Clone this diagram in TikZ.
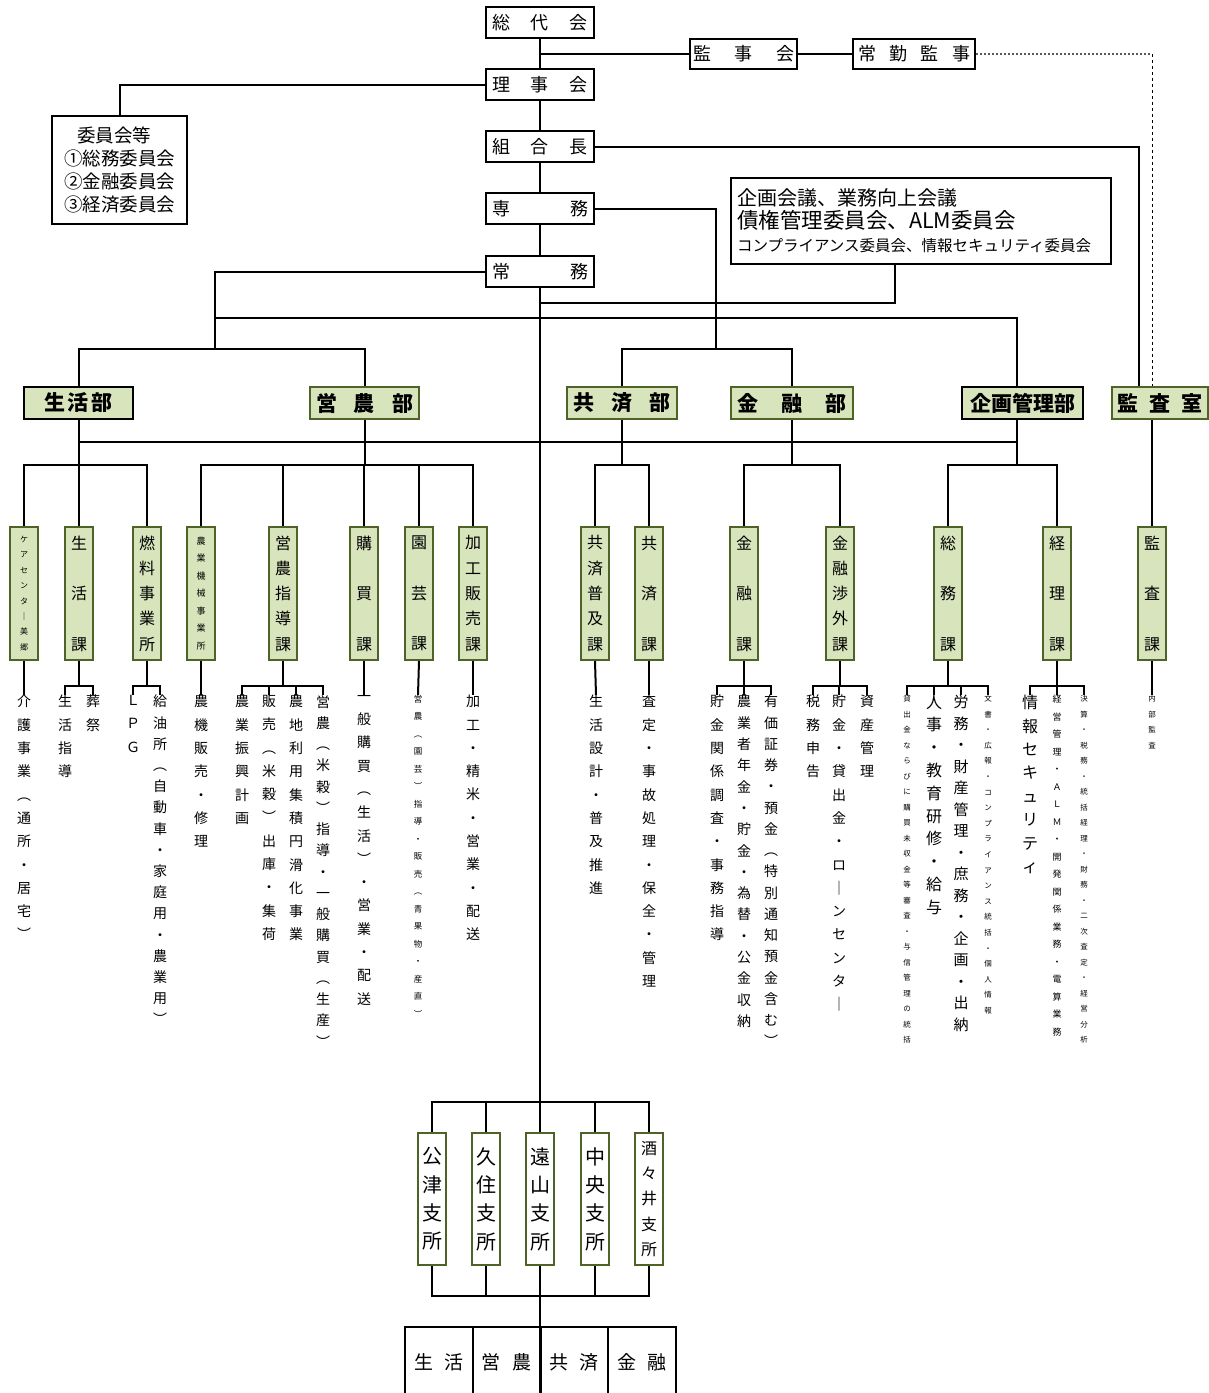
\documentclass[tikz,border=0pt]{standalone}
\usepackage{fontspec}
\setmainfont{Noto Sans CJK JP}
\usetikzlibrary{positioning,calc}
\definecolor{lgreen}{HTML}{D8E4BC}
\definecolor{kusa}{HTML}{4F6228}
\makeatletter
% vertical text: one character per line
\newcommand\tate[2]{\vbox{\baselineskip=#1\lineskiplimit=-\maxdimen
  \@tfor\tate@c:=#2\do{\hbox to 1.2em{\hss\tate@c\hss}}}}
% spread characters over a given width
\newcommand\spread[2]{\hbox to #1{\let\spr@sep\relax
  \@tfor\spr@c:=#2\do{\spr@sep\spr@c\let\spr@sep\hfil}}}
\makeatother
\tikzset{
  yaku/.style={draw,line width=2.5pt,minimum width=108pt,minimum height=31pt,inner sep=0pt,font=\fontsize{18}{18}\selectfont},
  bu/.style={draw=kusa,fill=lgreen,line width=2.5pt,minimum height=32pt,inner sep=0pt,font=\fontsize{21}{21}\selectfont\bfseries},
  ka/.style={draw=kusa,fill=lgreen,line width=2pt,minimum width=28pt,minimum height=133pt,inner sep=0pt,font=\fontsize{16}{16}\selectfont},
  shisho/.style={ka,fill=white,minimum height=132pt,font=\fontsize{20}{20}\selectfont},
  gyomu/.style={anchor=north,inner sep=0pt,font=\fontsize{14}{14}\selectfont},
  cell/.style={draw,line width=2pt,minimum width=68pt,minimum height=70pt,inner sep=0pt,font=\fontsize{19}{19}\selectfont},
  sen/.style={line width=2pt},
  kiten/.style={dotted,line width=2pt,black!65}
}
\begin{document}
\begin{tikzpicture}[x=1pt,y=-1pt]
\useasboundingbox (0,0) rectangle (1209,1393);

% top of the organisation
\node[yaku] (soudai) at (540,22.5) {\spread{96pt}{総代会}};
\node[yaku] (riji) at (540,84.5) {\spread{96pt}{理事会}};
\node[yaku] (kumiai) at (540,146.5) {\spread{96pt}{組合長}};
\node[yaku] (senmu) at (540,208.5) {\spread{96pt}{専務}};
\node[yaku] (joumu) at (540,271.5) {\spread{96pt}{常務}};
\node[yaku,minimum width=107pt,minimum height=30pt] (kanji) at (743.5,54) {\spread{101pt}{監事会}};
\node[yaku,minimum width=122pt,minimum height=30pt] (jokin) at (914,54) {\spread{112pt}{常勤監事}};
\node[draw,line width=2.5pt,minimum width=135pt,minimum height=108pt,align=left,inner sep=0pt,
  font=\fontsize{18.5}{23.3}\selectfont] (iinkai) at (119.5,170)
  {\hspace*{13pt}委員会等\\①総務委員会\\②金融委員会\\③経済委員会};
\node[draw,line width=2pt,minimum width=380pt,minimum height=86pt,align=left,text width=368pt,inner sep=0pt,
  font=\fontsize{20}{23}\selectfont] (kikaku) at (921,221)
  {企画会議、業務向上会議\\{\fontsize{21.5}{23}\selectfont 債権管理委員会、ALM委員会}\\
   {\fontsize{15.5}{23}\selectfont コンプライアンス委員会、情報セキュリティ委員会}};

% departments
\node[bu,draw=black,minimum width=109pt] (seikatsubu) at (78.5,403) {\spread{68pt}{生活部}};
\node[bu,minimum width=109pt] (einoubu) at (364.5,403) {\spread{97pt}{営農部}};
\node[bu,minimum width=110pt] (kyosaibu) at (622,403) {\spread{98pt}{共済部}};
\node[bu,minimum width=122pt] (kinyubu) at (792,403) {\spread{109pt}{金融部}};
\node[bu,draw=black,minimum width=121pt] (kanribu) at (1022.5,403) {企画管理部};
\node[bu,minimum width=96pt] (kansabu) at (1160,403) {\spread{85pt}{監査室}};

% sections
\node[ka,font=\fontsize{8}{8}\selectfont] (kea) at (24,593.5) {\tate{15.4pt}{ケアセンタ｜美郷}};
\node[ka] (seikatsuka) at (79,593.5) {\tate{50.5pt}{生活課}};
\node[ka] (nenryo) at (147,593.5) {\tate{25.3pt}{燃料事業所}};
\node[ka,font=\fontsize{9}{9}\selectfont] (kikai) at (201,593.5) {\tate{17.5pt}{農業機械事業所}};
\node[ka] (shidoka) at (283,593.5) {\tate{25.3pt}{営農指導課}};
\node[ka] (kobaika) at (364,593.5) {\tate{50.5pt}{購買課}};
\node[ka] (engeika) at (419,593.5) {\tate{50.5pt}{園芸課}};
\node[ka] (kakoka) at (473,593.5) {\tate{25.3pt}{加工販売課}};
\node[ka] (fukyuka) at (595,593.5) {\tate{25.3pt}{共済普及課}};
\node[ka] (kyosaika) at (649,593.5) {\tate{50.5pt}{共済課}};
\node[ka] (kinyuka) at (744,593.5) {\tate{50.5pt}{金融課}};
\node[ka] (shogaika) at (840,593.5) {\tate{25.3pt}{金融渉外課}};
\node[ka] (somuka) at (948,593.5) {\tate{50.5pt}{総務課}};
\node[ka] (keirika) at (1057,593.5) {\tate{50.5pt}{経理課}};
\node[ka] (kansaka) at (1152,593.5) {\tate{50.5pt}{監査課}};

% duties
\node[gyomu] (kaigo) at (24,695) {\tate{23.3pt}{介護事業︵通所・居宅︶}};
\node[gyomu] (shido) at (65,695) {\tate{23.3pt}{生活指導}};
\node[gyomu] (sosai) at (93,695) {\tate{23.3pt}{葬祭}};
\node[gyomu] (lpg) at (133,695) {\tate{23.3pt}{ＬＰＧ}};
\node[gyomu] (kyuyu) at (160,695) {\tate{21.2pt}{給油所︵自動車・家庭用・農業用︶}};
\node[gyomu] (noki) at (201,695) {\tate{23.3pt}{農機販売・修理}};
\node[gyomu] (shinko) at (242,695) {\tate{23.3pt}{農業振興計画}};
\node[gyomu] (hanbai) at (269,695) {\tate{23.3pt}{販売︵米穀︶出庫・集荷}};
\node[gyomu] (nochi) at (296,695) {\tate{23.3pt}{農地利用集積円滑化事業}};
\node[gyomu] (eishido) at (323,695) {\tate{21.25pt}{営農︵米穀︶指導・一般購買︵生産︶}};
\node[gyomu] (ippan) at (364,695) {\tate{23.3pt}{一般購買︵生活︶・営業・配送}};
\node[gyomu,font=\fontsize{8.5}{8.5}\selectfont] (engeich) at (418,695) {\tate{17.5pt}{営農︵園芸︶指導・販売︵青果物・産直︶}};
\node[gyomu] (kakoch) at (473,695) {\tate{23.3pt}{加工・精米・営業・配送}};
\node[gyomu] (sekkei) at (596,695) {\tate{23.3pt}{生活設計・普及推進}};
\node[gyomu] (satei) at (649,695) {\tate{23.3pt}{査定・事故処理・保全・管理}};
\node[gyomu] (chokin) at (717,695) {\tate{23.3pt}{貯金関係調査・事務指導}};
\node[gyomu] (nenkin) at (744,695) {\tate{21.3pt}{農業者年金・貯金・為替・公金収納}};
\node[gyomu] (yuka) at (771,695) {\tate{21.25pt}{有価証券・預金︵特別通知預金含む︶}};
\node[gyomu] (zeimu) at (813,695) {\tate{23.3pt}{税務申告}};
\node[gyomu] (kashi) at (839,695) {\tate{23.3pt}{貯金・貸出金・ロ｜ンセンタ｜}};
\node[gyomu] (shisan) at (867,695) {\tate{23.3pt}{資産管理}};
\node[gyomu,font=\fontsize{7.5}{7.5}\selectfont] (shinsa) at (907,695) {\tate{15.5pt}{貸出金ならびに購買未収金等審査・与信管理の統括}};
\node[gyomu,font=\fontsize{16}{16}\selectfont] (jinji) at (934,695) {\tate{22.8pt}{人事・教育研修・給与}};
\node[gyomu,font=\fontsize{15}{15}\selectfont] (romu) at (961,695) {\tate{21.5pt}{労務・財産管理・庶務・企画・出納}};
\node[gyomu,font=\fontsize{7.5}{7.5}\selectfont] (bunsho) at (988,695) {\tate{15.6pt}{文書・広報・コンプライアンス統括・個人情報}};
\node[gyomu,font=\fontsize{16}{16}\selectfont] (joho) at (1030,695) {\tate{23.4pt}{情報セキュリティ}};
\node[gyomu,font=\fontsize{9}{9}\selectfont] (keiei) at (1057,695) {\tate{17.5pt}{経営管理・ＡＬＭ・開発関係業務・電算業務}};
\node[gyomu,font=\fontsize{7.5}{7.5}\selectfont] (kessan) at (1084,695) {\tate{15.5pt}{決算・税務・統括経理・財務・二次査定・経営分析}};
\node[gyomu,font=\fontsize{7.5}{7.5}\selectfont] (naibu) at (1152,695) {\tate{15.5pt}{内部監査}};

% branches
\node[shisho] (kozu) at (432,1199) {\tate{28.3pt}{公津支所}};
\node[shisho] (kusumi) at (486,1199) {\tate{28.3pt}{久住支所}};
\node[shisho] (toyama) at (540,1199) {\tate{28.3pt}{遠山支所}};
\node[shisho] (chuo) at (595,1199) {\tate{28.3pt}{中央支所}};
\node[shisho,font=\fontsize{16}{16}\selectfont] (shisui) at (649,1199) {\tate{25.4pt}{酒々井支所}};
\node[cell] (tseikatsu) at (439,1362) {\spread{50pt}{生活}};
\node[cell] (teinou) at (506.5,1362) {\spread{50pt}{営農}};
\node[cell] (tkyosai) at (574,1362) {\spread{50pt}{共済}};
\node[cell] (tkinyu) at (642,1362) {\spread{50pt}{金融}};

% bars
\coordinate (jbar) at (215,349);
\coordinate (kjunc) at (716,349);
\coordinate (tbar) at (0,318);
\coordinate (kk) at (540,303);
\coordinate (kc) at (1152,54);
\coordinate (kr) at (1017,0);
\coordinate (bus) at (0,442);
\coordinate (kbar) at (0,465);
\coordinate (gbar) at (0,686);
\coordinate (sb1) at (0,1102);
\coordinate (sb2) at (0,1296);

% connectors: top
\draw[sen] (soudai.south) -- (riji.north);
\draw[sen] (riji.south) -- (kumiai.north);
\draw[sen] (kumiai.south) -- (senmu.north);
\draw[sen] (senmu.south) -- (joumu.north);
\draw[sen] (joumu.south) -- (toyama.north);
\draw[sen] (soudai.south |- kanji.west) -- (kanji.west);
\draw[sen] (kanji.east) -- (jokin.west);
\draw[sen] (riji.west) -| (iinkai.north);
\draw[sen] (kumiai.east) -| ([xshift=-21pt]kansabu.north);
\draw[kiten] (jokin.east) -- (kc);
\draw[dashed,line width=1pt] (kc) -- (kansabu.north -| kc);
\draw[sen] (senmu.east) -| (kjunc);
\draw[sen] (kyosaibu.north) |- (kjunc) -| (kinyubu.north);
\draw[sen] ([xshift=-26pt]kikaku.south) |- (kk);
\draw[sen] (joumu.west) -| (jbar);
\draw[sen] (seikatsubu.north) |- (jbar) -| (einoubu.north);
\draw[sen] (jbar |- tbar) -| (kr |- kanribu.north);

% connectors: departments to sections
\draw[sen] (seikatsubu.south |- bus) -- (kr |- bus);
\foreach \b in {seikatsubu,einoubu,kyosaibu,kinyubu}
  \draw[sen] (\b.south) -- (\b.south |- kbar);
\draw[sen] (kr |- kanribu.south) -- (kr |- kbar);
\foreach \a/\c in {kea/nenryo,kikai/kakoka,fukyuka/kyosaika,kinyuka/shogaika,somuka/keirika}
  \draw[sen] (\a.north) |- (\c.north |- kbar) -- (\c.north);
\foreach \c in {seikatsuka,shidoka,kobaika,engeika}
  \draw[sen] (\c.north) -- (\c.north |- kbar);
\draw[sen] (kansaka.north) -- (kansaka.north |- kansabu.south);

% connectors: sections to duties
\foreach \b in {seikatsuka,nenryo,shidoka,kinyuka,shogaika,somuka,keirika}
  \draw[sen] (\b.south) -- (\b.south |- gbar);
\foreach \a/\c in {shido/sosai,lpg/kyuyu,shinko/eishido,chokin/yuka,zeimu/shisan,shinsa/bunsho,joho/kessan}
  \draw[sen] (\a.north) |- (\c.north |- gbar) -- (\c.north);
\foreach \c in {hanbai,nochi,nenkin,kashi,jinji,romu,keiei}
  \draw[sen] (\c.north) -- (\c.north |- gbar);
\foreach \b/\c in {kea/kaigo,kikai/noki,kobaika/ippan,engeika/engeich,kakoka/kakoch,fukyuka/sekkei,kyosaika/satei,kansaka/naibu}
  \draw[sen] (\b.south) -- (\c.north);

% connectors: branches
\draw[sen] (kozu.north) |- (shisui.north |- sb1) -- (shisui.north);
\draw[sen] (kozu.south) |- (shisui.south |- sb2) -- (shisui.south);
\foreach \s in {kusumi,chuo} {
  \draw[sen] (\s.north) -- (\s.north |- sb1);
  \draw[sen] (\s.south) -- (\s.south |- sb2);
}
\draw[sen] (toyama.south) -- (toyama.south |- tkyosai.north);
\end{tikzpicture}
\end{document}
